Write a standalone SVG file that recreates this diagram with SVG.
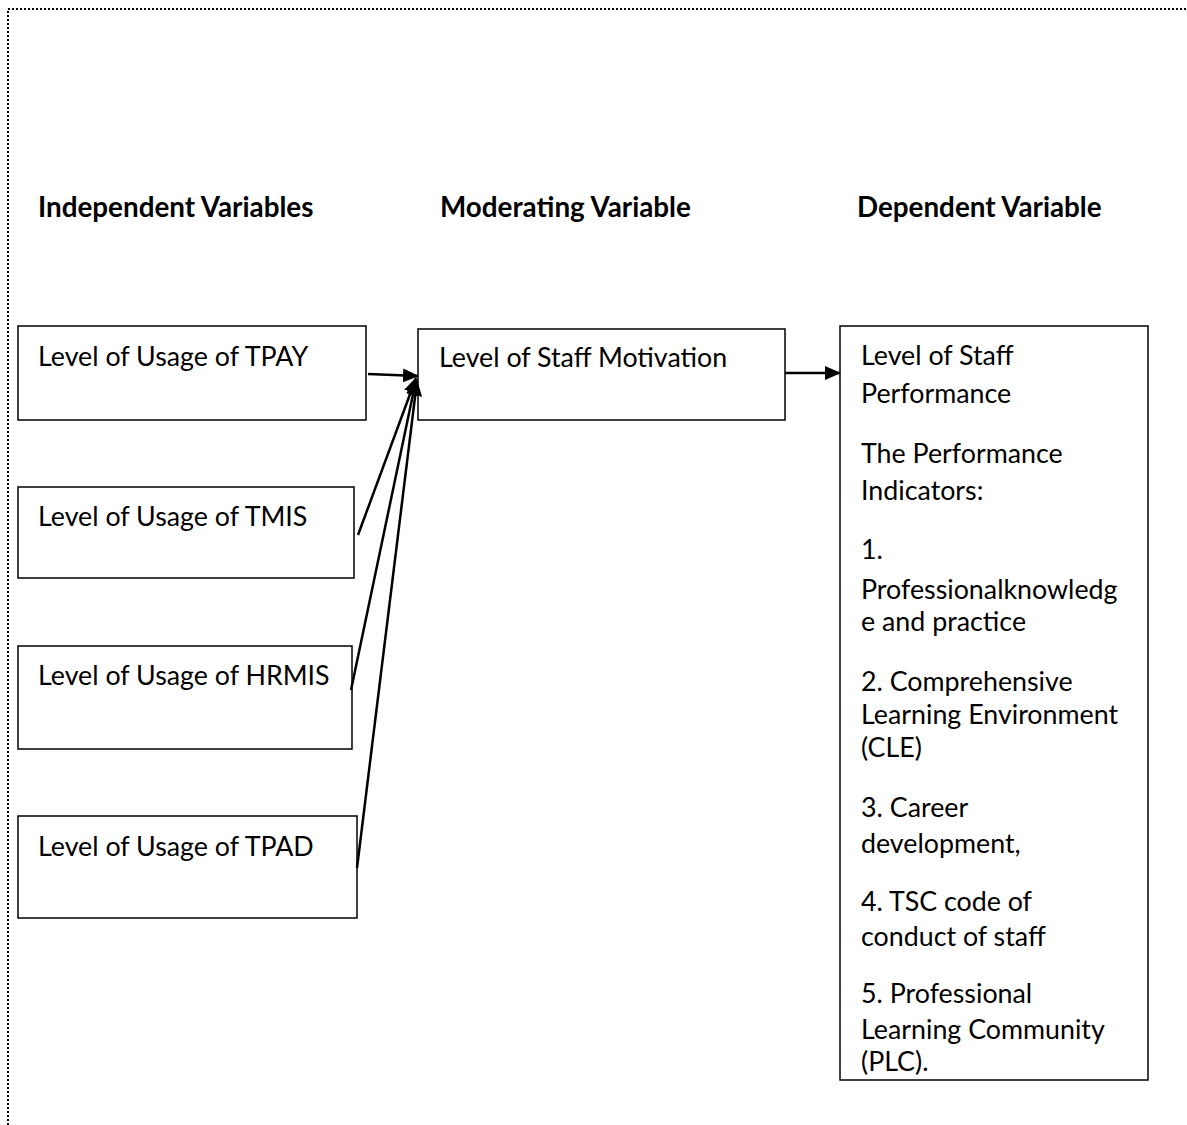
<svg xmlns="http://www.w3.org/2000/svg" width="1187" height="1125" viewBox="0 0 1187 1125">
<style>
.box{fill:#fff;stroke:#000;stroke-width:1.5}
.t{font-family:Lato,"Liberation Sans",sans-serif;font-size:26.8px;fill:#000}
.h{font-family:Lato,"Liberation Sans",sans-serif;font-size:27.8px;font-weight:bold;fill:#000}
.c{stroke:#000;stroke-width:2.5;fill:none}
.frame{stroke:#000;stroke-width:2;stroke-dasharray:2 2;fill:none}
</style>
<defs>
<marker id="ah2" markerWidth="16" markerHeight="14" refX="15" refY="7" orient="auto" markerUnits="userSpaceOnUse" viewBox="0 0 16 14">
<path d="M0,0 L16,7 L0,14 z" fill="#000"/>
</marker>
</defs>
<rect width="1187" height="1125" fill="#fff"/>
<path class="frame" d="M8,1125 L8,9 L1187,9"/>
<g id="headings">
<text class="h" x="38" y="217">Independent Variables</text>
<text class="h" x="440" y="217">Moderating Variable</text>
<text class="h" x="857" y="217">Dependent Variable</text>
</g>
<g id="node-tpay">
<rect class="box" x="18" y="326" width="348" height="94"/>
<text class="t" x="38" y="366">Level of Usage of TPAY</text>
</g>
<g id="node-tmis">
<rect class="box" x="18" y="487" width="336" height="91"/>
<text class="t" x="38" y="526">Level of Usage of TMIS</text>
</g>
<g id="node-hrmis">
<rect class="box" x="18" y="646" width="334" height="103"/>
<text class="t" x="38" y="685">Level of Usage of HRMIS</text>
</g>
<g id="node-tpad">
<rect class="box" x="18" y="816" width="339" height="102"/>
<text class="t" x="38" y="856">Level of Usage of TPAD</text>
</g>
<g id="node-motivation">
<rect class="box" x="418" y="329" width="367" height="91"/>
<text class="t" x="439" y="367">Level of Staff Motivation</text>
</g>
<g id="node-performance">
<rect class="box" x="840" y="326" width="308" height="754"/>
<text class="t" x="861" y="365">Level of Staff</text>
<text class="t" x="861" y="403">Performance</text>
<text class="t" x="861" y="463">The Performance</text>
<text class="t" x="861" y="500">Indicators:</text>
<text class="t" x="861" y="559">1.</text>
<text class="t" x="861" y="599">Professionalknowledg</text>
<text class="t" x="861" y="631">e and practice</text>
<text class="t" x="861" y="691">2. Comprehensive</text>
<text class="t" x="861" y="724">Learning Environment</text>
<text class="t" x="861" y="757">(CLE)</text>
<text class="t" x="861" y="817">3. Career</text>
<text class="t" x="861" y="853">development,</text>
<text class="t" x="861" y="911">4. TSC code of</text>
<text class="t" x="861" y="946">conduct of staff</text>
<text class="t" x="861" y="1003">5. Professional</text>
<text class="t" x="861" y="1039">Learning Community</text>
<text class="t" x="861" y="1071">(PLC).</text>
</g>
<g id="connectors">
<line class="c" x1="368" y1="374" x2="418" y2="376" marker-end="url(#ah2)"/>
<line class="c" x1="358" y1="535" x2="416" y2="378" marker-end="url(#ah2)"/>
<line class="c" x1="351" y1="690" x2="416" y2="380" marker-end="url(#ah2)"/>
<line class="c" x1="357" y1="868" x2="417" y2="381" marker-end="url(#ah2)"/>
<line class="c" x1="785" y1="373" x2="840" y2="373" marker-end="url(#ah2)"/>
</g>
</svg>
